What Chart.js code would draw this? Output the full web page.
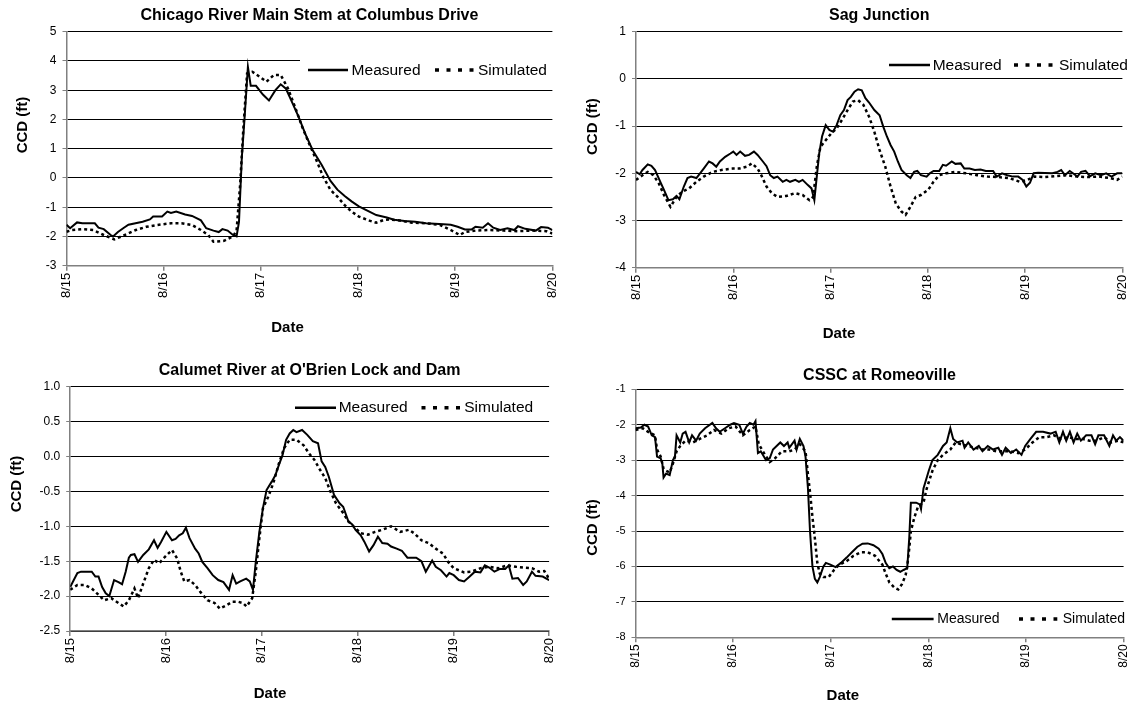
<!DOCTYPE html>
<html>
<head>
<meta charset="utf-8">
<title>CCD: measured vs simulated</title>
<script src="https://cdn.jsdelivr.net/npm/chart.js@4.4.0/dist/chart.umd.min.js"></script>
<style>
  html, body { margin: 0; padding: 0; background: #fff; }
  #wrap { position: relative; width: 1140px; height: 706px; overflow: hidden; }
  #wrap canvas { position: absolute; }
</style>
</head>
<body>
<div id="wrap">
  <canvas id="c1" width="570" height="345" style="left:0;top:0"></canvas>
  <canvas id="c2" width="570" height="345" style="left:570px;top:0"></canvas>
  <canvas id="c3" width="570" height="361" style="left:0;top:345px"></canvas>
  <canvas id="c4" width="570" height="361" style="left:570px;top:345px"></canvas>
</div>
<script>
// ---- tick labels (x axis is hours after 8/15 00:00) ----
const dateTicks = ['8/15', '8/16', '8/17', '8/18', '8/19', '8/20'];
const seriesNames = ['Measured', 'Simulated'];

// ---- Chicago River Main Stem at Columbus Drive ----
const chicagoMeasHours = [0,0.9,2.6,3.9,7.0,7.9,9.2,10.9,11.5,12.7,
  14.0,15.3,18.8,20.6,21.4,23.6,24.9,25.8,27.1,29.3,
  31.0,33.2,34.5,36.3,37.6,38.5,39.8,41.1,42.0,42.6,
  43.3,44.0,44.8,45.5,46.8,48.5,50.0,51.6,52.9,54.2,
  55.5,57.3,59.0,60.8,63.0,65.2,66.9,68.7,70.4,72.2,
  74.3,76.5,79.1,80.9,83.5,86.1,88.8,93.1,94.9,96.6,
  98.4,100.1,101.0,102.8,104.1,105.4,107.1,108.9,110.6,111.5,
  113.3,115.9,117.2,118.9,120];
const chicagoMeas = [-1.6,-1.72,-1.52,-1.55,-1.55,-1.7,-1.75,-1.95,-2.0,-1.85,
  -1.72,-1.6,-1.5,-1.42,-1.32,-1.32,-1.15,-1.2,-1.15,-1.25,
  -1.3,-1.45,-1.72,-1.8,-1.85,-1.75,-1.8,-1.95,-2.0,-1.5,
  0.7,2.1,3.8,3.15,3.15,2.85,2.65,3.0,3.2,3.05,
  2.65,2.1,1.5,0.95,0.45,-0.1,-0.4,-0.62,-0.8,-0.97,
  -1.12,-1.27,-1.35,-1.43,-1.47,-1.5,-1.55,-1.58,-1.6,-1.67,
  -1.76,-1.76,-1.67,-1.7,-1.55,-1.7,-1.78,-1.72,-1.78,-1.65,
  -1.74,-1.8,-1.68,-1.7,-1.78];
const chicagoSimHours = [0,1.3,3.9,6.6,9.2,11.8,14.4,17.1,19.7,22.3,
  25.8,28.4,31.0,33.2,35.0,36.3,38.9,41.1,42.0,42.9,
  43.7,44.6,45.9,47.7,49.4,51.2,52.9,54.7,56.4,58.2,
  59.9,61.7,63.4,65.2,66.9,68.7,70.4,72.2,74.8,76.5,
  78.3,80.0,82.6,85.3,88.8,92.3,94.9,97.1,98.4,101.0,
  104.5,108.0,111.5,115.0,118.5,120];
const chicagoSim = [-1.84,-1.78,-1.75,-1.78,-1.95,-2.1,-1.95,-1.78,-1.67,-1.61,
  -1.55,-1.55,-1.61,-1.78,-1.95,-2.18,-2.15,-2.0,-1.8,-0.2,
  1.75,3.57,3.63,3.46,3.29,3.52,3.52,3.06,2.44,1.75,
  1.18,0.61,0.04,-0.41,-0.64,-0.93,-1.15,-1.32,-1.46,-1.53,
  -1.44,-1.42,-1.46,-1.53,-1.55,-1.61,-1.78,-1.95,-1.85,-1.8,
  -1.78,-1.8,-1.82,-1.8,-1.82,-1.9];

// ---- Sag Junction ----
const sagMeasHours = [0,0.9,1.6,2.9,3.8,4.7,6.0,6.9,8.0,9.1,
  10.0,10.7,11.8,12.7,13.6,14.9,15.8,16.7,18.0,18.9,
  19.8,20.7,22.0,23.3,24.0,24.8,25.7,26.9,27.9,29.1,
  30.0,31.3,32.2,33.1,34.0,34.9,36.2,37.1,38.0,39.3,
  40.2,41.1,42.4,43.3,44.0,44.6,45.2,45.9,46.8,47.7,
  48.6,49.5,50.4,51.3,52.2,53.0,53.9,54.8,55.7,56.6,
  57.5,58.8,60.1,61.0,61.9,62.8,63.7,64.6,65.5,66.8,
  67.7,68.6,69.4,70.3,71.7,72.5,73.4,74.8,75.7,76.5,
  77.9,78.8,80.1,81.0,82.3,83.6,85.0,86.3,88.1,89.0,
  90.3,91.6,93.0,94.3,95.4,96.3,97.2,98.1,99.2,102.7,
  104.0,104.9,105.8,107.0,107.8,108.9,109.8,110.9,112.0,113.3,
  114.7,116.0,117.3,118.7,120];
const sagMeas = [-1.97,-2.02,-1.93,-1.81,-1.84,-1.93,-2.18,-2.35,-2.57,-2.55,
  -2.48,-2.55,-2.28,-2.1,-2.07,-2.1,-2.0,-1.9,-1.75,-1.79,
  -1.86,-1.75,-1.65,-1.58,-1.54,-1.61,-1.54,-1.63,-1.61,-1.54,
  -1.61,-1.75,-1.85,-2.04,-2.1,-2.07,-2.18,-2.14,-2.18,-2.14,
  -2.18,-2.14,-2.25,-2.32,-2.57,-2.07,-1.58,-1.22,-0.98,-1.08,
  -1.12,-0.98,-0.77,-0.66,-0.45,-0.38,-0.27,-0.22,-0.24,-0.41,
  -0.5,-0.66,-0.77,-1.01,-1.22,-1.4,-1.54,-1.75,-1.93,-2.04,
  -2.1,-1.97,-1.95,-2.04,-2.07,-2.0,-1.95,-1.95,-1.82,-1.84,
  -1.75,-1.8,-1.79,-1.9,-1.9,-1.93,-1.92,-1.95,-1.95,-2.07,
  -2.0,-2.04,-2.07,-2.07,-2.14,-2.28,-2.2,-2.0,-1.99,-2.0,
  -1.97,-1.93,-2.04,-1.95,-2.0,-2.07,-1.97,-1.95,-2.06,-2.0,
  -2.04,-2.0,-2.07,-2.0,-2.0];
const sagSimHours = [0,1.6,2.9,4.3,5.6,6.9,8.5,10.0,11.4,13.1,
  14.9,16.7,18.9,21.1,23.8,25.5,27.3,28.6,30.0,30.9,
  32.2,33.5,34.9,37.1,39.3,41.1,42.8,43.7,44.6,45.5,
  46.8,48.2,49.5,50.8,52.2,53.5,54.8,56.1,57.5,58.8,
  60.1,61.5,62.8,64.1,65.5,66.5,67.7,69.0,70.3,72.1,
  73.4,74.8,76.5,78.8,81.4,84.1,86.7,89.4,92.1,94.7,
  96.5,98.3,100.9,103.6,106.3,108.9,111.6,114.2,116.9,118.7,
  120];
const sagSim = [-2.14,-2.04,-1.97,-2.04,-2.21,-2.46,-2.71,-2.5,-2.39,-2.32,
  -2.18,-2.07,-1.97,-1.93,-1.9,-1.9,-1.86,-1.79,-1.9,-2.04,
  -2.28,-2.42,-2.5,-2.48,-2.42,-2.46,-2.57,-2.5,-1.86,-1.44,
  -1.3,-1.15,-1.05,-0.87,-0.66,-0.48,-0.45,-0.55,-0.8,-1.12,
  -1.51,-1.86,-2.28,-2.64,-2.81,-2.88,-2.71,-2.5,-2.46,-2.35,
  -2.18,-2.04,-2.0,-1.97,-2.0,-2.04,-2.07,-2.08,-2.1,-2.18,
  -2.14,-2.07,-2.08,-2.06,-2.04,-2.07,-2.08,-2.07,-2.1,-2.14,
  -2.07];

// ---- Calumet River at O'Brien Lock and Dam ----
const calumetMeasHours = [0,0.9,1.8,2.7,5.4,6.3,7.1,8.0,8.9,9.8,
  11.0,12.1,13.0,13.9,14.7,15.2,16.1,17.0,18.3,19.7,
  21.0,21.9,22.8,24.1,25.5,26.4,27.3,28.2,29.0,29.9,
  31.3,32.2,33.1,34.4,35.7,37.1,38.4,39.8,40.7,41.6,
  42.6,44.1,45.0,45.8,46.5,47.4,48.3,49.2,50.5,51.4,
  52.3,53.2,54.1,55.0,55.9,56.7,58.1,59.4,60.8,62.1,
  63.0,63.9,64.8,66.1,67.5,68.4,69.7,70.6,71.5,72.8,
  73.7,74.9,76.0,77.1,78.2,79.5,80.4,81.8,83.1,84.5,
  86.7,88.0,89.1,90.7,91.6,92.9,94.3,95.0,96.1,97.4,
  98.7,100.1,101.4,102.8,103.9,105.0,106.3,107.7,109.0,109.9,
  110.8,112.2,113.5,114.4,115.7,116.6,118.4,120];
const calumetMeas = [-1.87,-1.77,-1.67,-1.65,-1.65,-1.72,-1.72,-1.87,-1.96,-2.0,
  -1.77,-1.8,-1.83,-1.65,-1.45,-1.41,-1.4,-1.51,-1.41,-1.33,
  -1.2,-1.31,-1.22,-1.08,-1.2,-1.18,-1.13,-1.1,-1.02,-1.17,
  -1.32,-1.39,-1.51,-1.6,-1.7,-1.77,-1.8,-1.91,-1.7,-1.82,
  -1.79,-1.75,-1.79,-1.91,-1.51,-1.08,-0.74,-0.48,-0.36,-0.27,
  -0.12,0.02,0.24,0.33,0.38,0.35,0.38,0.31,0.22,0.19,
  -0.07,-0.15,-0.29,-0.55,-0.67,-0.72,-0.93,-0.97,-1.05,-1.13,
  -1.22,-1.36,-1.27,-1.15,-1.24,-1.25,-1.29,-1.32,-1.35,-1.45,
  -1.45,-1.5,-1.65,-1.49,-1.58,-1.63,-1.72,-1.67,-1.7,-1.77,
  -1.79,-1.72,-1.65,-1.66,-1.56,-1.59,-1.65,-1.61,-1.61,-1.56,
  -1.75,-1.74,-1.84,-1.79,-1.65,-1.71,-1.72,-1.77];
const calumetSimHours = [0,1.8,3.6,5.4,6.7,8.5,10.3,12.1,13.4,14.7,
  16.1,17.0,18.3,19.7,21.0,22.3,23.7,25.5,26.8,27.7,
  28.6,29.9,31.3,32.6,34.4,36.2,37.5,38.9,40.7,42.0,
  43.3,44.2,45.6,46.5,47.4,48.3,49.6,50.9,52.3,53.6,
  55.0,56.7,58.5,59.9,61.2,62.6,63.9,65.2,66.6,68.4,
  69.7,71.0,72.8,74.6,76.4,78.2,80.4,82.7,84.9,86.2,
  88.0,89.8,91.6,93.4,94.7,96.1,97.4,98.7,100.5,102.8,
  105.0,107.3,109.5,111.7,113.5,115.7,117.5,118.8,120];
const calumetSim = [-1.91,-1.84,-1.84,-1.89,-1.96,-2.06,-2.03,-2.1,-2.15,-2.06,
  -1.89,-2.03,-1.82,-1.6,-1.48,-1.53,-1.44,-1.34,-1.46,-1.65,
  -1.79,-1.77,-1.84,-1.94,-2.06,-2.1,-2.18,-2.14,-2.08,-2.08,
  -2.1,-2.15,-2.03,-1.65,-1.17,-0.74,-0.58,-0.38,-0.1,0.12,
  0.24,0.24,0.16,0.04,-0.05,-0.19,-0.31,-0.5,-0.67,-0.81,
  -0.93,-1.0,-1.1,-1.12,-1.08,-1.05,-1.0,-1.08,-1.05,-1.1,
  -1.2,-1.24,-1.32,-1.39,-1.51,-1.6,-1.63,-1.66,-1.65,-1.6,
  -1.58,-1.6,-1.56,-1.58,-1.59,-1.6,-1.65,-1.64,-1.75];

// ---- CSSC at Romeoville ----
const romeoMeasHours = [0,1.3,2.2,3.1,4.0,4.8,5.3,6.2,6.6,6.9,
  7.5,8.4,9.2,9.7,10.1,11.0,11.6,12.3,13.2,13.9,
  14.9,15.8,17.1,18.9,19.8,20.7,22.0,23.3,24.2,25.5,
  26.4,27.3,28.1,29.0,29.5,30.1,30.8,32.1,33.0,33.8,
  35.6,36.5,37.4,37.8,39.1,39.6,40.4,41.3,41.8,42.4,
  42.9,43.5,44.1,44.7,45.3,46.2,46.8,47.9,49.2,50.5,
  51.9,53.2,54.5,55.8,57.1,58.5,59.8,60.7,61.5,62.4,
  63.3,64.2,65.1,65.9,66.8,67.3,67.7,69.0,69.9,70.2,
  70.8,72.1,73.0,74.3,75.6,76.5,77.4,78.1,79.1,80.4,
  80.9,81.8,83.1,84.4,85.3,86.6,87.9,89.2,90.1,91.0,
  92.3,93.6,94.9,95.8,97.1,98.5,100.2,102.0,103.3,104.2,
  105.1,105.9,106.8,107.7,108.6,109.5,110.8,112.1,113.0,113.8,
  115.2,116.5,117.4,118.2,119.1,120];
const romeoMeas = [-2.1,-2.08,-2.0,-2.05,-2.3,-2.35,-2.9,-2.95,-3.1,-3.49,
  -3.38,-3.42,-3.0,-2.9,-2.3,-2.5,-2.25,-2.2,-2.5,-2.3,
  -2.45,-2.25,-2.1,-1.95,-2.1,-2.2,-2.1,-2.0,-1.95,-2.0,
  -2.25,-2.05,-1.95,-2.0,-1.9,-2.8,-2.75,-3.0,-2.95,-2.7,
  -2.5,-2.6,-2.5,-2.65,-2.45,-2.7,-2.4,-2.6,-2.9,-3.8,
  -5.0,-6.0,-6.35,-6.45,-6.3,-6.0,-5.9,-5.95,-6.02,-5.9,
  -5.75,-5.6,-5.45,-5.36,-5.35,-5.4,-5.5,-5.65,-5.9,-6.05,
  -6.0,-6.1,-6.15,-6.1,-6.05,-5.2,-4.2,-4.2,-4.25,-4.38,
  -3.8,-3.3,-3.0,-2.85,-2.6,-2.5,-2.1,-2.4,-2.5,-2.45,
  -2.65,-2.5,-2.7,-2.6,-2.75,-2.6,-2.7,-2.65,-2.85,-2.65,
  -2.8,-2.7,-2.85,-2.6,-2.4,-2.2,-2.2,-2.25,-2.2,-2.5,
  -2.2,-2.45,-2.2,-2.5,-2.25,-2.45,-2.3,-2.3,-2.55,-2.3,
  -2.3,-2.6,-2.3,-2.45,-2.35,-2.45];
const romeoSimHours = [0,1.8,3.1,4.8,5.3,6.2,6.9,7.5,8.4,9.2,
  10.1,11.0,12.3,14.1,15.8,17.6,19.3,21.1,22.9,24.6,
  26.4,28.1,29.5,30.3,31.6,33.0,34.3,36.0,37.8,39.1,
  40.4,41.8,42.4,42.9,43.5,44.0,44.7,45.3,46.2,47.5,
  48.8,50.1,51.9,53.6,55.4,57.1,58.9,60.7,61.5,62.4,
  63.7,64.6,65.5,66.4,66.8,67.3,67.7,68.6,69.5,70.8,
  71.6,73.0,74.3,75.6,77.4,78.7,80.0,81.8,83.5,85.3,
  87.0,88.8,90.5,92.3,94.1,95.8,97.6,99.3,101.1,102.9,
  104.6,106.4,108.1,109.9,111.6,113.4,115.2,116.9,118.7,120];
const romeoSim = [-2.15,-2.1,-2.2,-2.3,-2.7,-2.9,-3.25,-3.3,-3.35,-3.1,
  -2.75,-2.6,-2.45,-2.5,-2.4,-2.3,-2.15,-2.25,-2.1,-2.05,
  -2.3,-2.15,-2.05,-2.55,-2.8,-3.05,-2.95,-2.75,-2.75,-2.7,
  -2.55,-2.75,-3.4,-3.9,-4.6,-5.1,-5.9,-6.2,-6.3,-6.3,
  -6.1,-5.95,-5.85,-5.7,-5.6,-5.6,-5.7,-5.95,-6.2,-6.45,
  -6.6,-6.65,-6.5,-6.25,-6.0,-5.5,-5.0,-4.6,-4.3,-4.2,
  -3.8,-3.3,-3.0,-2.85,-2.7,-2.5,-2.55,-2.6,-2.65,-2.7,
  -2.7,-2.75,-2.75,-2.75,-2.8,-2.7,-2.5,-2.35,-2.35,-2.3,
  -2.4,-2.35,-2.4,-2.4,-2.45,-2.45,-2.35,-2.5,-2.45,-2.5];

// ---- drawing ----
const FONT = '"Liberation Sans", Arial, Helvetica, sans-serif';
Chart.defaults.font.family = FONT;
Chart.defaults.color = '#000';

const toPoints = (hours, values) => hours.map((h, i) => ({ x: h, y: values[i] }));

// Axis titles and the in-plot legend of each panel.
const panelText = {
  id: 'panelText',
  afterDraw(chart, _args, o) {
    const ctx = chart.ctx;
    const ds = chart.data.datasets;
    ctx.save();
    ctx.fillStyle = '#000';
    ctx.textAlign = 'center';
    ctx.textBaseline = 'middle';
    ctx.font = 'bold 15px ' + FONT;
    ctx.fillText('Date', o.xTitle[0], o.xTitle[1]);
    ctx.save();
    ctx.translate(o.yTitle[0], o.yTitle[1]);
    ctx.rotate(-Math.PI / 2);
    ctx.fillText('CCD (ft)', 0, 0);
    ctx.restore();

    const L = o.legend;
    if (L.box) {
      ctx.fillStyle = '#fff';
      ctx.fillRect(L.box[0], L.box[1], L.box[2], L.box[3]);
    }
    ctx.strokeStyle = '#000';
    ctx.lineCap = 'butt';
    // solid sample
    ctx.lineWidth = 2.5;
    ctx.setLineDash([]);
    ctx.beginPath();
    ctx.moveTo(L.meas[0], L.y); ctx.lineTo(L.meas[1], L.y);
    ctx.stroke();
    // dotted sample
    ctx.lineWidth = 3.5;
    ctx.setLineDash([4, 7.5]);
    ctx.beginPath();
    ctx.moveTo(L.sim[0], L.y); ctx.lineTo(L.sim[1], L.y);
    ctx.stroke();
    ctx.setLineDash([]);
    ctx.fillStyle = '#000';
    ctx.textAlign = 'left';
    ctx.font = L.size + 'px ' + FONT;
    ctx.fillText(ds[0].label, L.measText, L.y + 0.5);
    ctx.fillText(ds[1].label, L.simText, L.y + 0.5);
    ctx.restore();
  }
};

function buildPanel(id, p) {
  return new Chart(document.getElementById(id), {
    type: 'line',
    data: {
      datasets: [
        { label: seriesNames[0], data: toPoints(p.measHours, p.meas),
          borderColor: '#000', borderWidth: 2, pointRadius: 0, tension: 0, fill: false },
        { label: seriesNames[1], data: toPoints(p.simHours, p.sim),
          borderColor: '#000', borderWidth: 2.5, borderDash: [3, 3], pointRadius: 0, tension: 0, fill: false }
      ]
    },
    options: {
      responsive: false,
      animation: false,
      events: [],
      layout: { padding: { left: 0, top: 0, bottom: 0, right: p.padRight } },
      plugins: {
        legend: { display: false },
        tooltip: { enabled: false },
        title: {
          display: true, text: p.title, fullSize: false, color: '#000',
          font: { size: 16, weight: 'bold' },
          padding: { top: p.titleTop, bottom: p.titleBottom }
        },
        panelText: p.text
      },
      scales: {
        x: {
          type: 'linear', min: 0, max: 120,
          afterFit: s => { s.height = p.xHeight; },
          ticks: {
            stepSize: 24, autoSkip: false, minRotation: 90, maxRotation: 90,
            padding: 2, color: '#000', font: { size: p.xTickSize },
            callback: v => dateTicks[Math.round(v / 24)]
          },
          grid: { drawOnChartArea: false, tickLength: 5, color: '#808080', tickColor: '#808080', lineWidth: 1.5 },
          border: { color: '#808080', width: 1.5 }
        },
        y: {
          min: p.yMin, max: p.yMax,
          afterFit: s => { s.width = p.yWidth; },
          ticks: {
            stepSize: p.yStep, padding: 6, color: '#000', font: { size: p.tickSize },
            callback: v => v.toFixed(p.decimals)
          },
          grid: { color: '#000', lineWidth: 1, tickLength: 4, tickColor: '#808080' },
          border: { color: '#808080', width: 1.5 }
        }
      }
    },
    plugins: [panelText]
  });
}

buildPanel('c1', {
  title: 'Chicago River Main Stem at Columbus Drive',
  measHours: chicagoMeasHours, meas: chicagoMeas, simHours: chicagoSimHours, sim: chicagoSim,
  yMin: -3, yMax: 5, yStep: 1, decimals: 0, tickSize: 12, xTickSize: 13,
  yWidth: 66.5, padRight: 14.4, xHeight: 79.3, titleTop: 6.4, titleBottom: 6.1,
  text: {
    xTitle: [287.5, 328], yTitle: [23.3, 125],
    legend: { y: 70, size: 15.5, box: [300, 57, 253, 26],
      meas: [308, 348], measText: 351.6, sim: [435, 475], simText: 478 }
  }
});

buildPanel('c2', {
  title: 'Sag Junction',
  measHours: sagMeasHours, meas: sagMeas, simHours: sagSimHours, sim: sagSim,
  yMin: -4, yMax: 1, yStep: 1, decimals: 0, tickSize: 12, xTickSize: 13,
  yWidth: 66, padRight: 12, xHeight: 77.3, titleTop: 6.4, titleBottom: 6.1,
  text: {
    xTitle: [269, 333.4], yTitle: [23, 126.7],
    legend: { y: 65, size: 15.5,
      meas: [319, 360], measText: 362.7, sim: [444, 483.4], simText: 489 }
  }
});

buildPanel('c3', {
  title: "Calumet River at O'Brien Lock and Dam",
  measHours: calumetMeasHours, meas: calumetMeas, simHours: calumetSimHours, sim: calumetSim,
  yMin: -2.5, yMax: 1, yStep: 0.5, decimals: 1, tickSize: 12, xTickSize: 13,
  yWidth: 70.2, padRight: 20.9, xHeight: 75, titleTop: 16.4, titleBottom: 6.1,
  text: {
    xTitle: [270, 348.4], yTitle: [16.7, 139],
    legend: { y: 62.7, size: 15.5,
      meas: [295, 336], measText: 338.7, sim: [421.5, 460.7], simText: 464.2 }
  }
});

buildPanel('c4', {
  title: 'CSSC at Romeoville',
  measHours: romeoMeasHours, meas: romeoMeas, simHours: romeoSimHours, sim: romeoSim,
  yMin: -8, yMax: -1, yStep: 1, decimals: 0, tickSize: 11, xTickSize: 12,
  yWidth: 65.5, padRight: 8.2, xHeight: 68.7, titleTop: 20.7, titleBottom: 4.4,
  text: {
    xTitle: [272.8, 350.6], yTitle: [23.3, 182.5],
    legend: { y: 274, size: 14,
      meas: [321.8, 363.6], measText: 367.3, sim: [449, 487.3], simText: 492.7 }
  }
});
</script>
</body>
</html>
